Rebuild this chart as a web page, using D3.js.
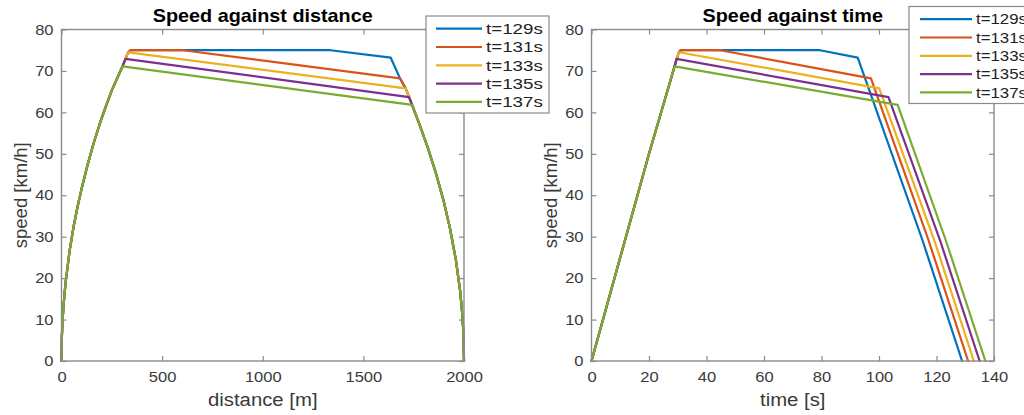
<!DOCTYPE html>
<html><head><meta charset="utf-8">
<script src="https://cdn.jsdelivr.net/npm/d3@7"></script>
<style>
body{margin:0;background:#fff}
svg{display:block}
text{font-family:"Liberation Sans",Arial,Helvetica,sans-serif}
</style>
</head><body>
<svg id="c" width="1024" height="415"></svg>
<script>
// ---------- data ----------
const seriesNames = ["t=129s","t=131s","t=133s","t=135s","t=137s"];
const seriesColors = ["#0072BD","#D95319","#EDB120","#7E2F8E","#77AC30"];

// Speed against distance: shared acceleration curve
const distAccelX = [0,2,5,10,20,40,60,80,100,130,160,190,220,250,280,303,318,331,343];
const distAccelY = [0,6,9.5,13.3,18.8,26.5,32.4,37.3,41.6,47.4,52.6,57.2,61.4,65.3,68.6,71.1,72.9,74.5,75];
// per-series cruise / coast knee points (first = end of acceleration, last = start of braking)
const distKneeX = [[343,1337,1636],[343,604,1682],[331,1710],[318,1727],[303,1742]];
const distKneeY = [[75,75,73.2],[75,75,68.2],[74.5,65.8],[72.9,63.7],[71.1,61.8]];
// shared braking curve
const distBrakeX = [1636,1682,1710,1727,1742,1780,1820,1860,1900,1930,1960,1980,1990,1996,2000];
const distBrakeY = [73.2,68.2,65.8,63.7,61.8,56.9,51.5,45.4,38.4,32.1,24.3,17.2,12.1,7.7,0];

// Speed against time: shared acceleration line
const timeAccelX = [0,10,20,28.9,29.6,30.4,31.0];
const timeAccelY = [0,25,50,71.1,72.9,74.5,75];
const timeKneeX = [[31,79.5,92.6],[31,44.8,97.2],[30.4,100.1],[29.6,103.3],[28.9,106.5]];
const timeKneeY = [[75,75,73.2],[75,75,68.2],[74.5,65.8],[72.9,63.7],[71.1,61.8]];
const timeBrakeX = [[115.1,128.9],[117.2,131],[119.2,133],[121.2,135],[123.2,137]];
const timeBrakeY = [[29.2,0],[29.2,0],[29.2,0],[29.2,0],[29.2,0]];

const distTicks = [0,500,1000,1500,2000];
const timeTicks = [0,20,40,60,80,100,120,140];
const speedTicks = [0,10,20,30,40,50,60,70,80];

// ---------- build series ----------
function distSeries(i){
  const kx = distKneeX[i], ky = distKneeY[i];
  const pts = [];
  distAccelX.forEach((x,j)=>{ if (x < kx[0]) pts.push([x, distAccelY[j]]); });
  kx.forEach((x,j)=>pts.push([x, ky[j]]));
  distBrakeX.forEach((x,j)=>{ if (x > kx[kx.length-1]) pts.push([x, distBrakeY[j]]); });
  return pts;
}
function timeSeries(i){
  const kx = timeKneeX[i], ky = timeKneeY[i];
  const pts = [];
  timeAccelX.forEach((x,j)=>{ if (x < kx[0]) pts.push([x, timeAccelY[j]]); });
  kx.forEach((x,j)=>pts.push([x, ky[j]]));
  timeBrakeX[i].forEach((x,j)=>pts.push([x, timeBrakeY[i][j]]));
  return pts;
}

// ---------- drawing ----------
const svg = d3.select("#c");
const axisColor = "#8a8a8a", labelColor = "#3a3a3a";
const SX = 1.14; // horizontal text stretch seen in the reference
const yScale = d3.scaleLinear([0,80],[361,29.5]);

function stretchedText(g, x, y, str, size, sx, anchor){
  return g.append("text").attr("transform",`translate(${x},${y}) scale(${sx},1)`)
    .attr("text-anchor",anchor||"middle").attr("font-size",size).text(str);
}

function panel(opts){
  const {x, xTicks, title, xLabel, data, legend} = opts;
  const [x0,x1] = x.range(), [y0,y1] = yScale.range();
  const g = svg.append("g");

  // series lines
  const line = d3.line().x(d=>x(d[0])).y(d=>yScale(d[1]));
  data.forEach((pts,i)=>{
    g.append("path").attr("d", line(pts)).attr("fill","none")
      .attr("stroke", seriesColors[i]).attr("stroke-width",2.2)
      .attr("stroke-linejoin","round").attr("stroke-linecap","round");
  });

  // axes (ticks inward on all four sides)
  const fmt = d3.format("d");
  const ax = [
    [d3.axisBottom(x).tickValues(xTicks).tickFormat(fmt).tickSize(-5).tickPadding(11), `translate(0,${y0})`, true],
    [d3.axisTop(x).tickValues(xTicks).tickSize(-5), `translate(0,${y1})`, false],
    [d3.axisLeft(yScale).tickValues(speedTicks).tickFormat(fmt).tickSize(-5).tickPadding(7), `translate(${x0},0)`, true],
    [d3.axisRight(yScale).tickValues(speedTicks).tickSize(-5), `translate(${x1},0)`, false]
  ];
  ax.forEach(([a,t,lab])=>{
    const ag = g.append("g").attr("transform",t).call(a.tickSizeOuter(0));
    ag.select(".domain").remove();
    ag.selectAll("line").attr("stroke",axisColor).attr("stroke-width",1.2);
    if (lab) ag.selectAll("text").attr("fill",labelColor).attr("font-size",14.5)
      .attr("font-family",'"Liberation Sans",Arial,sans-serif')
      .attr("transform",`scale(${SX},1)`);
    else ag.selectAll("text").remove();
  });
  g.append("rect").attr("x",x0).attr("y",y1).attr("width",x1-x0).attr("height",y0-y1)
    .attr("fill","none").attr("stroke",axisColor).attr("stroke-width",1.4);

  const cx = (x0+x1)/2;
  stretchedText(g, cx, 22, title, 18, 1.1).attr("font-weight","bold").attr("fill","#000");
  stretchedText(g, cx, 406, xLabel, 18, 1.13).attr("fill",labelColor);
  g.append("text").attr("transform",`translate(${x0-35},${(y0+y1)/2}) rotate(-90)`)
    .attr("text-anchor","middle").attr("font-size",18.5).attr("fill",labelColor).text("speed [km/h]");

  // legend
  const L = legend;
  const lg = svg.append("g");
  lg.append("rect").attr("x",L.x).attr("y",L.y).attr("width",L.w).attr("height",L.h)
    .attr("fill","#fff").attr("stroke",axisColor).attr("stroke-width",1.2);
  seriesNames.forEach((n,i)=>{
    const yy = L.y + 12.7 + i*18.3;
    lg.append("line").attr("x1",L.x+L.l0).attr("x2",L.x+L.l1).attr("y1",yy).attr("y2",yy)
      .attr("stroke",seriesColors[i]).attr("stroke-width",2.2);
    stretchedText(lg, L.x+L.t, yy, n, 15, L.sx, "start").attr("dy","0.35em").attr("fill","#222");
  });
}

panel({
  x: d3.scaleLinear([0,2000],[61.5,464]),
  xTicks: distTicks, title: "Speed against distance", xLabel: "distance [m]",
  data: seriesNames.map((_,i)=>distSeries(i)),
  legend: {x:426, y:16, w:123, h:97, l0:10, l1:56, t:60, sx:1.25}
});
panel({
  x: d3.scaleLinear([0,140],[591.5,994]),
  xTicks: timeTicks, title: "Speed against time", xLabel: "time [s]",
  data: seriesNames.map((_,i)=>timeSeries(i)),
  legend: {x:909, y:6.5, w:123, h:97, l0:11, l1:63, t:67, sx:1.12}
});
</script>
</body></html>
